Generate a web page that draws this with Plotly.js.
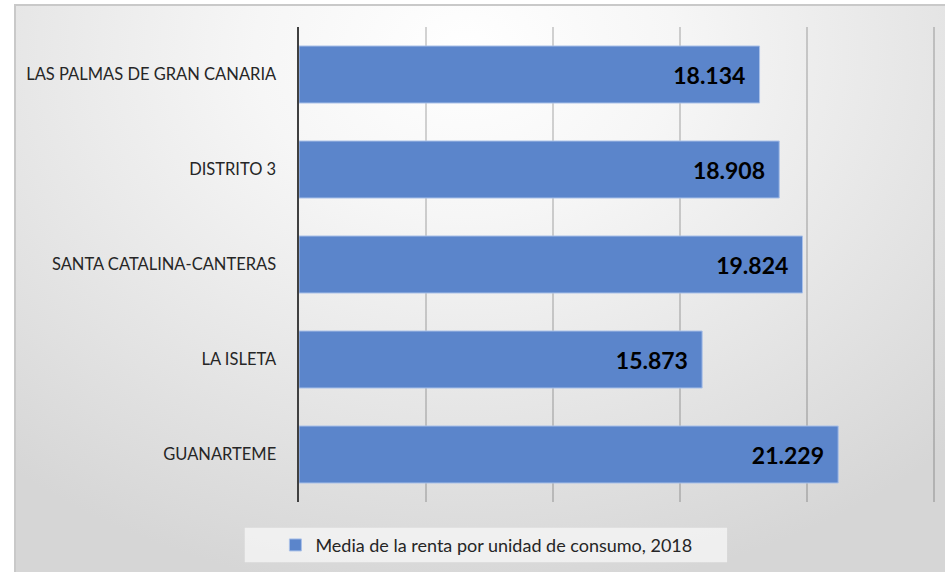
<!DOCTYPE html>
<html>
<head>
<meta charset="utf-8">
<script src="https://cdn.plot.ly/plotly-3.0.1.min.js"></script>
<style>
  html, body { margin: 0; padding: 0; width: 945px; height: 572px; overflow: hidden; background: #ffffff; }
  #frame {
    position: absolute; left: 14px; top: 4px; width: 940px; height: 580px;
    border: 2px solid #c9c9c9; box-sizing: border-box;
    background: radial-gradient(ellipse 75% 95% at 48% 8%, #ffffff 0%, #f6f6f6 30%, #e6e6e6 65%, #d6d6d6 100%);
  }
  #chart { position: absolute; left: 0; top: 0; width: 945px; height: 572px; }
</style>
</head>
<body>
<div id="frame"></div>
<div id="chart"></div>
<script>
const categories = ["LAS PALMAS DE GRAN CANARIA", "DISTRITO 3", "SANTA CATALINA-CANTERAS", "LA ISLETA", "GUANARTEME"];
const values = [18134, 18908, 19824, 15873, 21229];
const seriesName = "Media de la renta por unidad de consumo, 2018";

const trace = {
  type: "bar",
  orientation: "h",
  y: categories,
  x: values,
  name: seriesName,
  marker: { color: "#5b85cb", line: { color: "#a9c0e8", width: 1 } },
  texttemplate: "%{x:,}\u00a0\u00a0",
  textposition: "inside",
  insidetextanchor: "end",
  textfont: { family: "Lato, 'Open Sans', sans-serif", size: 23, color: "#000000", weight: "bold" },
  hoverinfo: "none",
  showlegend: true
};

const layout = {
  width: 945, height: 572,
  margin: { l: 299, r: 8, t: 27, b: 66, pad: 0 },
  paper_bgcolor: "rgba(0,0,0,0)",
  plot_bgcolor: "rgba(0,0,0,0)",
  separators: ",.",
  bargap: 0.4,
  font: { family: "Lato, 'Open Sans', sans-serif", color: "#262626", size: 16 },
  xaxis: {
    range: [0, 25120], dtick: 5000, tick0: 0,
    showgrid: true, gridcolor: "rgba(0,0,0,0.17)", gridwidth: 1.5,
    zeroline: false, showticklabels: false, ticks: "", showline: false,
    fixedrange: true
  },
  yaxis: {
    autorange: "reversed",
    showline: true, linecolor: "#404040", linewidth: 2.5,
    ticks: "", showgrid: false, zeroline: false,
    ticklabelstandoff: 17,
    tickfont: { size: 16.5, color: "#262626" },
    fixedrange: true
  },
  shapes: [{
    type: "rect", xref: "paper", yref: "paper",
    x0: -0.085, x1: 0.671, y0: -0.127, y1: -0.054,
    fillcolor: "rgba(242,242,242,0.9)", line: { width: 0 }, layer: "below"
  }],
  legend: {
    orientation: "h", x: -0.037, xanchor: "left", y: -0.091, yanchor: "middle",
    bgcolor: "rgba(0,0,0,0)", font: { size: 18, color: "#262626" },
    itemclick: false, itemdoubleclick: false, itemwidth: 30
  },
  showlegend: true
};

Plotly.newPlot("chart", [trace], layout, { displayModeBar: false, staticPlot: true });
</script>
</body>
</html>
